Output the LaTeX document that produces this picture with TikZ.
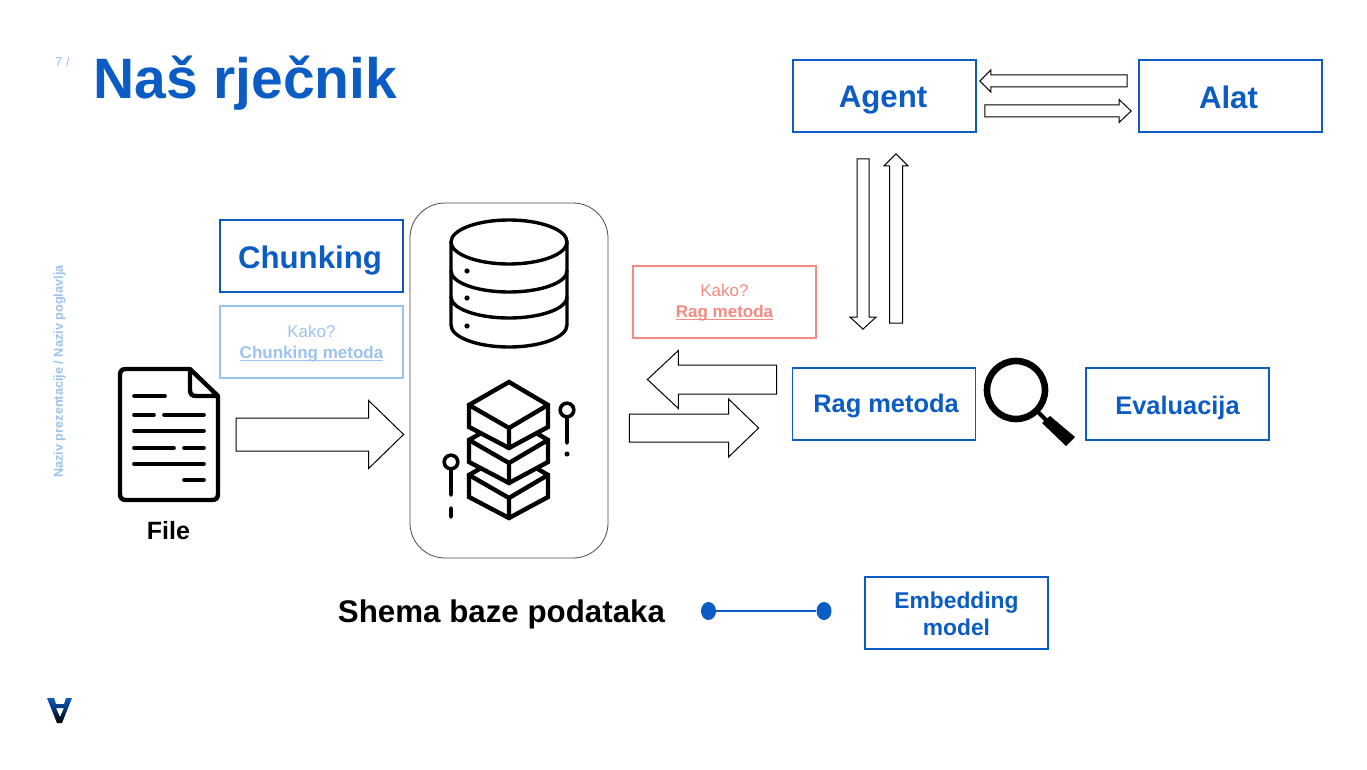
\documentclass[tikz,border=0pt]{standalone}
\usepackage{fontspec}
\setmainfont{Liberation Sans}
\usetikzlibrary{calc,shapes.geometric}
\definecolor{naviblue}{HTML}{0B5CC4}
\definecolor{paleblue}{HTML}{9CC3F0}
\definecolor{salmon}{HTML}{F28B82}
\tikzset{
  termbox/.style={draw=naviblue,line width=1.8pt,minimum width=183pt,minimum height=72pt,inner sep=0pt,align=center,text=naviblue,font=\bfseries},
  bigbox/.style={termbox,font=\fontsize{31.2}{36}\bfseries\selectfont,text depth=0pt,text height=#1},
  midbox/.style={termbox,font=\fontsize{25.4}{30}\bfseries\selectfont,text depth=0pt,text height=#1},
  howbox/.style={termbox,draw=#1,text=#1,font=\fontsize{17}{21}\selectfont},
  blockline/.style={draw=black,line width=1pt,fill=white,line join=miter},
  icon/.style={line width=4.4pt,line cap=round,line join=round},
  dbline/.style={line width=3.4pt,line cap=round,line join=round},
  thinicon/.style={line width=3.6pt,line cap=round,line join=round},
  linkdot/.style={ellipse,fill=naviblue,draw=none,minimum width=15pt,minimum height=18pt,inner sep=0pt}
}
\newcommand{\blockarrow}[5]{%
  \coordinate (ba) at ($(#2)!#4!(#1)$);
  \draw[blockline] ($(#1)!#3!90:(#2)$) -- ($(ba)!#3!90:(#2)$) -- ($(ba)!#5!90:(#2)$) -- (#2)
    -- ($(ba)!#5!-90:(#2)$) -- ($(ba)!#3!-90:(#2)$) -- ($(#1)!#3!-90:(#2)$) -- cycle;
}
\newcommand{\ulbold}[1]{\setbox0\hbox{\bfseries #1}\rlap{\rule[-2.2pt]{\wd0}{1.4pt}}\box0}
\begin{document}
\begin{tikzpicture}[x=1pt,y=-1pt]
\useasboundingbox (0,0) rectangle (1367,770);
\fill[white] (0,0) rectangle (1367,770);

% header
\node[text=naviblue,font=\fontsize{57}{60}\bfseries\selectfont,anchor=base west,inner sep=0pt] (title) at (93,99) {Naš rječnik};
\node[text=paleblue,font=\fontsize{13}{14}\selectfont,anchor=base west,inner sep=0pt] (pagenum) at (55,67) {7 /};
\node[text=paleblue,font=\fontsize{12.7}{14}\bfseries\selectfont,rotate=90,inner sep=0pt] (chapter) at (59.5,371.5) {Naziv prezentacije / Naziv poglavlja};

% boxes
\node[bigbox=23.4pt] (agent) at (884.5,96) {Agent\kern3pt};
\node[bigbox=26pt] (alat) at (1230.5,96) {Alat\kern4pt};
\node[bigbox=24pt] (chunking) at (311.5,256) {Chunking\kern3pt};
\node[howbox=paleblue] (howchunk) at (311.5,342) {\rule{0pt}{16.4pt}Kako?\\\ulbold{Chunking metoda}};
\node[howbox=salmon] (howrag) at (724.5,302) {\rule{0pt}{14.4pt}Kako?\\\ulbold{Rag metoda}};
\node[midbox=17pt] (rag) at (884,404) {\kern4pt Rag metoda};
\node[midbox=20pt] (eval) at (1177.5,404) {Evaluacija};
\node[termbox,font=\fontsize{22.8}{27}\bfseries\selectfont] (embed) at (956.5,613) {\rule{0pt}{18.5pt}Embedding\\model};
\node[draw=black!70,line width=0.8pt,rounded corners=35pt,minimum width=198pt,minimum height=355pt,inner sep=0pt] (store) at (509,380.5) {};
\node[minimum width=100pt,minimum height=131pt,inner sep=0pt] (file) at (169,434.5) {};
\node[font=\fontsize{25}{30}\bfseries\selectfont,inner sep=0pt] (filename) at (168.5,530.5) {File};
\node[font=\fontsize{31.3}{36}\bfseries\selectfont,inner sep=0pt] (schema) at (501.5,614) {Shema baze podataka};

% link
\node[linkdot] (dotl) at (708.5,611) {};
\node[linkdot] (dotr) at (824,611) {};
\draw[naviblue,line width=1.1pt] (dotl) -- (dotr);

% block arrows
\coordinate (fileout) at ([xshift=17pt]file.east);
\coordinate (storein) at ([xshift=-6pt,yshift=-54pt]store.west);
\blockarrow{fileout}{storein}{16.5pt}{35pt}{34pt}
\coordinate (ragout) at ([xshift=-15pt,yshift=24.5pt]rag.west);
\coordinate (storeout) at ([xshift=39pt,yshift=1pt]store.east);
\blockarrow{ragout}{storeout |- ragout}{14.5pt}{31pt}{29pt}
\coordinate (ragin) at ([xshift=-33pt,yshift=-24pt]rag.west);
\coordinate (storeback) at ([xshift=21pt,yshift=-47.5pt]store.east);
\blockarrow{storeback}{ragin}{14pt}{30pt}{29pt}
\coordinate (alatout) at ([xshift=-11pt,yshift=15pt]alat.west);
\coordinate (agentin) at ([xshift=3pt,yshift=15pt]agent.east);
\blockarrow{alatout}{agentin}{6pt}{11pt}{11pt}
\coordinate (agentout) at ([xshift=8pt,yshift=-15pt]agent.east);
\coordinate (alatin) at ([xshift=-7pt,yshift=-15pt]alat.west);
\blockarrow{agentout}{alatin}{6pt}{12pt}{11.5pt}
\coordinate (agentdown) at ([xshift=-21.5pt,yshift=-26pt]agent.south);
\coordinate (ragup) at ([xshift=-21pt,yshift=38pt]rag.north);
\blockarrow{agentdown}{ragup}{6pt}{12pt}{13pt}
\coordinate (ragstart) at ([xshift=12pt,yshift=44pt]rag.north);
\coordinate (agentup) at ([xshift=11.5pt,yshift=-21pt]agent.south);
\blockarrow{ragstart}{agentup}{6.5pt}{12pt}{12pt}

% file icon
\draw[icon] (190,369)--(126,369)..controls (122,369) and (120,371) .. (120,375)--(120,494)..controls (120,498) and (122,500) .. (126,500)--(212,500)..controls (216,500) and (218,498) .. (218,494)--(218,396)--(190,369)--(190,390)..controls (190,394) and (192,396) .. (196,396)--(218,396);
\draw[thinicon] (134,396)--(165,396) (134,415)--(154,415) (164,415)--(204,415) (134,431)--(204,431)
  (134,448)--(174,448) (184,448)--(204,448) (134,464)--(204,464) (184,480)--(204,480);

% database icon
\draw[dbline] (509,242) ellipse (58 and 22);
\draw[dbline] (451,242)--(451,325) arc (180:0:58 and 22)--(567,242);
\draw[dbline] (451,271) arc (180:0:58 and 21);
\draw[dbline] (451,297) arc (180:0:58 and 21);
\fill (467,271) circle (2.6) (467,298) circle (2.6) (467,326) circle (2.6);

% stacked boxes icon
\foreach \dy in {70,35,0}{
  \draw[icon,fill=white,line join=miter] (509,382+\dy)--(548,405+\dy)--(548,427+\dy)--(509,448+\dy)--(469,427+\dy)--(469,405+\dy)--cycle;
  \draw[icon,line join=miter] (469,405+\dy)--(509,428+\dy)--(548,405+\dy) (509,428+\dy)--(509,448+\dy);
}
\draw[thinicon] (567,410) circle (6.8) (567,418)--(567,443) (451,462) circle (6.8) (451,470)--(451,495) (451,508)--(451,517);
\fill (567,454) circle (2.5);

% magnifier
\draw[line width=6.6pt] (1016,390) circle (29);
\draw[line width=4pt] (1036,410)--(1050,424);
\fill[line join=round] (1050,416)--(1075,437)--(1066,446)--(1042,423)--cycle;

% logo
\shade[top color=naviblue,bottom color=black,even odd rule] (47,698)--(54,698)--(56,704)--(64,704)--(66,698)--(72,698)--(62,723)--(57,723)--cycle (56,708)--(64,708)--(60,717)--cycle;
\end{tikzpicture}
\end{document}
